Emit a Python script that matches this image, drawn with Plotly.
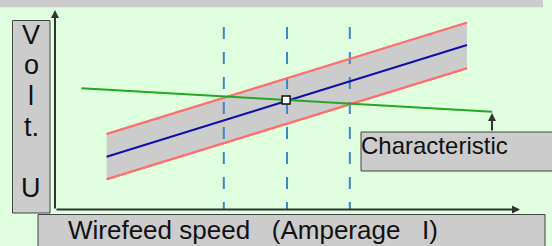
import plotly.graph_objects as go

# ---- data (arbitrary units 0..100) ----
speed_band = [11.1, 88.6]
volt_upper = [38.2, 94.6]
volt_mid = [26.7, 83.3]
volt_lower = [15.3, 71.5]
char_speed = [5.7, 94.0]
char_volt = [61.4, 49.5]
guide_speeds = [36.3, 49.9, 63.4]
guide_top = 92.4
op_speed = [49.7]
op_volt = [55.4]
y_label_lines = ["V", "o", "l", "t.", "", "U"]
x_label = "Wirefeed speed\u00a0\u00a0\u00a0(Amperage\u00a0\u00a0\u00a0I)"
char_label = "Characteristic"

W, H = 552, 246
def px(x):
    return x / W
def py(y):
    return 1 - y / H

FONT = "Liberation Sans, Arial, sans-serif"
BG = "#DFFFDF"
BOX = "#CCCCCC"

fig = go.Figure()

# band
fig.add_trace(go.Scatter(x=speed_band, y=volt_lower, mode="lines",
                         line=dict(color="#FF7070", width=2), showlegend=False))
fig.add_trace(go.Scatter(x=speed_band, y=volt_upper, mode="lines", fill="tonexty",
                         fillcolor=BOX, line=dict(color="#FF7070", width=2), showlegend=False))
# guide dashes
for g in guide_speeds:
    fig.add_trace(go.Scatter(x=[g, g], y=[guide_top, 0], mode="lines",
                             line=dict(color="#3D85C6", width=2, dash="12px,13px"),
                             showlegend=False))
# redraw red lines on top of fill
fig.add_trace(go.Scatter(x=speed_band, y=volt_lower, mode="lines",
                         line=dict(color="#FF7070", width=2), showlegend=False))
fig.add_trace(go.Scatter(x=speed_band, y=volt_upper, mode="lines",
                         line=dict(color="#FF7070", width=2), showlegend=False))
fig.add_trace(go.Scatter(x=speed_band, y=volt_mid, mode="lines",
                         line=dict(color="#1010A8", width=2), showlegend=False))
fig.add_trace(go.Scatter(x=char_speed, y=char_volt, mode="lines",
                         line=dict(color="#22A822", width=2), showlegend=False))
fig.add_trace(go.Scatter(x=op_speed, y=op_volt, mode="markers",
                         marker=dict(symbol="square", size=8, color="white",
                                     line=dict(color="#111111", width=1.5)),
                         showlegend=False))

shapes = [
    # top gray strip
    dict(type="rect", xref="paper", yref="paper", x0=px(0), x1=px(543), y0=py(-2), y1=py(7.3),
         fillcolor=BOX, line=dict(width=0), layer="below"),
    # y label box
    dict(type="rect", xref="paper", yref="paper", x0=px(12.5), x1=px(50), y0=py(20.5), y1=py(213),
         fillcolor=BOX, line=dict(color="#444444", width=1)),
    # x label box
    dict(type="rect", xref="paper", yref="paper", x0=px(38), x1=px(545), y0=py(214.5), y1=py(250),
         fillcolor=BOX, line=dict(color="#444444", width=1)),
    # characteristic box
    dict(type="rect", xref="paper", yref="paper", x0=px(361), x1=px(555), y0=py(132), y1=py(171),
         fillcolor=BOX, line=dict(color="#444444", width=1)),
]

annotations = []
# axis arrows
annotations.append(dict(xref="paper", yref="paper", x=px(520), y=py(209.5), ax=-465, ay=0,
                        text="", showarrow=True, arrowhead=2, arrowsize=0.8, arrowwidth=2,
                        arrowcolor="#333333"))
annotations.append(dict(xref="paper", yref="paper", x=px(55), y=py(10), ax=0, ay=200,
                        text="", showarrow=True, arrowhead=2, arrowsize=0.8, arrowwidth=2,
                        arrowcolor="#333333"))
# characteristic arrow
annotations.append(dict(xref="paper", yref="paper", x=px(492), y=py(113), ax=0, ay=19,
                        text="", showarrow=True, arrowhead=2, arrowsize=0.8, arrowwidth=2,
                        arrowcolor="#333333"))
# y label letters
for i, t in enumerate(y_label_lines):
    if t:
        annotations.append(dict(xref="paper", yref="paper", x=px(31), y=py(34.5 + 30.7 * i),
                                text=t, showarrow=False, xanchor="center", yanchor="middle",
                                font=dict(family=FONT, size=27, color="#111111")))
annotations.append(dict(xref="paper", yref="paper", x=px(66), y=py(230), text=x_label,
                        showarrow=False, xanchor="left", yanchor="middle",
                        font=dict(family=FONT, size=26, color="#111111")))
annotations.append(dict(xref="paper", yref="paper", x=px(359), y=py(145), text=char_label,
                        showarrow=False, xanchor="left", yanchor="middle",
                        font=dict(family=FONT, size=24, color="#111111")))

fig.update_layout(
    width=W, height=H,
    margin=dict(l=0, r=0, t=0, b=0),
    paper_bgcolor=BG, plot_bgcolor=BG,
    xaxis=dict(domain=[px(55), px(520)], range=[0, 100], visible=False, fixedrange=True),
    yaxis=dict(domain=[py(209.5), py(12)], range=[0, 100], visible=False, fixedrange=True),
    shapes=shapes, annotations=annotations,
    showlegend=False,
)

fig.write_html("out.html", config={"displayModeBar": False},
               post_script="document.body.style.margin='0';document.body.style.overflow='hidden';")
